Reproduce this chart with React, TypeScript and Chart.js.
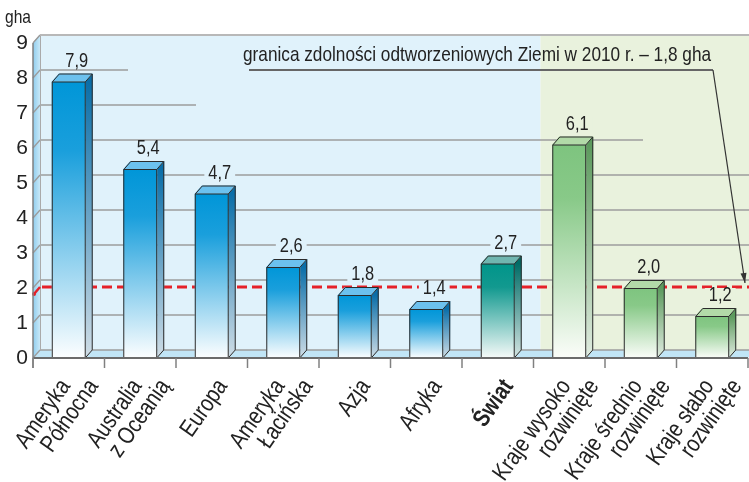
import React, { useEffect, useRef } from "react";
import { Chart, registerables } from "chart.js";

Chart.register(...registerables);

// ---------- data ----------
const categories: string[][] = [
  ["Ameryka", "Północna"],
  ["Australia", "z Oceanią"],
  ["Europa"],
  ["Ameryka", "Łacińska"],
  ["Azja"],
  ["Afryka"],
  ["Świat"],
  ["Kraje wysoko", "rozwinięte"],
  ["Kraje średnio", "rozwinięte"],
  ["Kraje słabo", "rozwinięte"],
];
const values: number[] = [7.9, 5.4, 4.7, 2.6, 1.8, 1.4, 2.7, 6.1, 2.0, 1.2];
const groups: string[] = ["region", "region", "region", "region", "region", "region", "world", "dev", "dev", "dev"];
const yTicks: number[] = [0, 1, 2, 3, 4, 5, 6, 7, 8, 9];
const limitValue = 1.8;
const limitText = "granica zdolności odtworzeniowych Ziemi w 2010 r. – 1,8 gha";
const unitText = "gha";

// ---------- style ----------
const FONT = "'Liberation Sans', Arial, sans-serif";
const NARROW = 0.82; // horizontal condensing to mimic a condensed typeface
const W = 749;
const H = 482;
const DX = 7;
const DY = 8;
const BG_BLUE = "#e0f2fb";
const BG_GREEN = "#e9f2dd";
const FLOOR = "#c1e5f6";
const GRID = "#9c9c9c";
const TEXT = "#222";

const palettes: Record<string, { front: string[]; side: string[]; top: string }> = {
  region: { front: ["#0096d8", "#1a9fdc", "#fcfeff"], side: ["#0a6ea8", "#cfdde6"], top: "#6cc1ee" },
  world: { front: ["#00958a", "#12998f", "#f6faf9"], side: ["#006c66", "#d5e5e3"], top: "#70b6b0" },
  dev: { front: ["#7ec47f", "#88c988", "#fbfdf9"], side: ["#5c9a5d", "#e0ece0"], top: "#b2daa8" },
};

// grid lines that stop early (right end as fraction of canvas width)
const gridStops: Record<number, number> = { 8: 128 / W, 7: 196 / W, 6: 643 / W };

const fmt = (v: number) => v.toFixed(1).replace(".", ",");

function narrowText(
  ctx: CanvasRenderingContext2D,
  text: string,
  x: number,
  y: number,
  size: number,
  align: CanvasTextAlign,
  opts: { bold?: boolean; angle?: number } = {}
) {
  ctx.save();
  ctx.translate(x, y);
  if (opts.angle) ctx.rotate(opts.angle);
  ctx.scale(NARROW, 1);
  ctx.font = `${opts.bold ? "bold " : ""}${size}px ${FONT}`;
  ctx.textAlign = align;
  ctx.textBaseline = "alphabetic";
  ctx.fillStyle = TEXT;
  ctx.fillText(text, 0, 0);
  ctx.restore();
}

function narrowWidth(ctx: CanvasRenderingContext2D, text: string, size: number) {
  ctx.save();
  ctx.font = `${size}px ${FONT}`;
  const w = ctx.measureText(text).width * NARROW;
  ctx.restore();
  return w;
}

const frontGradient = (c: any) => {
  const chart = c.chart;
  const i = c.dataIndex;
  const pal = palettes[groups[i] ?? "region"];
  const area = chart.chartArea;
  if (!area || i === undefined) return pal.front[0];
  const yS = chart.scales.y;
  const t = yS.getPixelForValue(c.raw);
  const b = yS.getPixelForValue(0);
  const g = chart.ctx.createLinearGradient(0, t, 0, b);
  g.addColorStop(0, pal.front[0]);
  g.addColorStop(0.25, pal.front[1]);
  g.addColorStop(1, pal.front[2]);
  return g;
};

const threeD = {
  id: "threeD",
  beforeDatasetsDraw(chart: any) {
    const { ctx, chartArea, scales } = chart;
    const { left, right, top, bottom } = chartArea;
    const x = scales.x;
    const y = scales.y;
    const catW = x.getPixelForValue(1) - x.getPixelForValue(0);
    const boundary = x.getPixelForValue(6) + catW / 2 + DX;
    const byTop = top - DY;
    const byBottom = bottom - DY;
    ctx.save();
    // backgrounds
    ctx.fillStyle = BG_BLUE;
    ctx.fillRect(left + DX, byTop, boundary - (left + DX), byBottom - byTop);
    ctx.fillStyle = BG_GREEN;
    ctx.fillRect(boundary, byTop, W - boundary, byBottom - byTop);
    // floor
    ctx.fillStyle = FLOOR;
    ctx.beginPath();
    ctx.moveTo(left, bottom);
    ctx.lineTo(right, bottom);
    ctx.lineTo(right + DX, byBottom);
    ctx.lineTo(left + DX, byBottom);
    ctx.closePath();
    ctx.fill();
    // left wall
    const wg = ctx.createLinearGradient(left, 0, left + DX, 0);
    wg.addColorStop(0, "#8fcdee");
    wg.addColorStop(1, "#c8e8f7");
    ctx.fillStyle = wg;
    ctx.beginPath();
    ctx.moveTo(left, top);
    ctx.lineTo(left + DX, byTop);
    ctx.lineTo(left + DX, byBottom);
    ctx.lineTo(left, bottom);
    ctx.closePath();
    ctx.fill();
    // grid lines on back wall + wall ticks
    ctx.strokeStyle = GRID;
    ctx.lineWidth = 1.3;
    for (const v of yTicks) {
      const fy = y.getPixelForValue(v);
      const by = fy - DY;
      if (v < 9) {
        const stop = gridStops[v] !== undefined ? gridStops[v] * W : W;
        ctx.beginPath();
        ctx.moveTo(left + DX, by);
        ctx.lineTo(stop, by);
        ctx.stroke();
      }
      ctx.beginPath();
      ctx.moveTo(left, fy);
      ctx.lineTo(left + DX, by);
      ctx.stroke();
    }
    // back-left vertical edge
    ctx.strokeStyle = "#aaa";
    ctx.lineWidth = 1;
    ctx.beginPath();
    ctx.moveTo(left + DX + 0.5, byTop);
    ctx.lineTo(left + DX + 0.5, byBottom);
    ctx.stroke();
    // red dashed limit line
    const lf = y.getPixelForValue(limitValue);
    const lb = lf - DY;
    ctx.strokeStyle = "#e52129";
    ctx.lineWidth = 3;
    ctx.setLineDash([10, 5]);
    ctx.beginPath();
    ctx.moveTo(left + DX + 2, lb);
    ctx.lineTo(W, lb);
    ctx.stroke();
    ctx.setLineDash([]);
    ctx.lineWidth = 2.5;
    ctx.beginPath();
    ctx.moveTo(left + 1, lf - 1);
    ctx.lineTo(left + DX, lb);
    ctx.stroke();
    ctx.fillStyle = "#e52129";
    ctx.beginPath();
    ctx.arc(left + 1, lf - 1, 2, 0, Math.PI * 2);
    ctx.fill();
    // value label backgrounds (gaps in lines)
    values.forEach((v, i) => {
      const cx = x.getPixelForValue(i) + 8;
      const base = y.getPixelForValue(v) - 15;
      const tw = narrowWidth(ctx, fmt(v), 20);
      ctx.fillStyle = i < 7 ? BG_BLUE : BG_GREEN;
      ctx.fillRect(cx - tw / 2 - 4, base - 13, tw + 8, 15);
    });
    // top border
    ctx.strokeStyle = "#b8b8b8";
    ctx.lineWidth = 2;
    ctx.beginPath();
    ctx.moveTo(left + DX, byTop);
    ctx.lineTo(W, byTop);
    ctx.stroke();
    ctx.strokeStyle = "#999";
    ctx.lineWidth = 1;
    ctx.beginPath();
    ctx.moveTo(left, top);
    ctx.lineTo(left + DX, byTop);
    ctx.stroke();
    ctx.restore();
  },
  afterDatasetsDraw(chart: any) {
    const { ctx, chartArea, scales } = chart;
    const { left, right, top, bottom } = chartArea;
    const x = scales.x;
    const y = scales.y;
    const meta = chart.getDatasetMeta(0);
    ctx.save();
    meta.data.forEach((el: any, i: number) => {
      const p = el.getProps(["x", "y", "base", "width"], true);
      const pal = palettes[groups[i]];
      const l = p.x - p.width / 2;
      const r = p.x + p.width / 2;
      const t = p.y;
      const b = p.base;
      // side face
      const sg = ctx.createLinearGradient(0, t, 0, b);
      sg.addColorStop(0, pal.side[0]);
      sg.addColorStop(1, pal.side[1]);
      ctx.fillStyle = sg;
      ctx.beginPath();
      ctx.moveTo(r, t);
      ctx.lineTo(r + DX, t - DY);
      ctx.lineTo(r + DX, b - DY);
      ctx.lineTo(r, b);
      ctx.closePath();
      ctx.fill();
      // top face
      ctx.fillStyle = pal.top;
      ctx.beginPath();
      ctx.moveTo(l, t);
      ctx.lineTo(r, t);
      ctx.lineTo(r + DX, t - DY);
      ctx.lineTo(l + DX, t - DY);
      ctx.closePath();
      ctx.fill();
      // outlines
      ctx.strokeStyle = "#2b2b2b";
      ctx.lineWidth = 1;
      ctx.lineJoin = "round";
      ctx.beginPath();
      ctx.rect(l + 0.5, t + 0.5, p.width - 1, b - t - 0.5);
      ctx.moveTo(l + 0.5, t + 0.5);
      ctx.lineTo(l + DX + 0.5, t - DY + 0.5);
      ctx.lineTo(r + DX - 0.5, t - DY + 0.5);
      ctx.lineTo(r - 0.5, t + 0.5);
      ctx.moveTo(r + DX - 0.5, t - DY + 0.5);
      ctx.lineTo(r + DX - 0.5, b - DY);
      ctx.lineTo(r - 0.5, b);
      ctx.stroke();
      // value label
      narrowText(ctx, fmt(values[i]), p.x + 8, y.getPixelForValue(values[i]) - 15, 20, "center");
    });

    // front axes
    ctx.strokeStyle = "#6b6b6b";
    ctx.lineWidth = 2;
    ctx.beginPath();
    ctx.moveTo(left, bottom);
    ctx.lineTo(right, bottom);
    ctx.stroke();
    ctx.strokeStyle = "#808080";
    ctx.lineWidth = 1.5;
    ctx.beginPath();
    ctx.moveTo(left, top);
    ctx.lineTo(left, bottom + 10);
    ctx.stroke();
    const catW = x.getPixelForValue(1) - x.getPixelForValue(0);
    for (let k = 0; k <= categories.length; k++) {
      const tx = x.getPixelForValue(0) - catW / 2 + k * catW;
      ctx.beginPath();
      ctx.moveTo(tx, bottom);
      ctx.lineTo(tx, bottom + 10);
      ctx.stroke();
    }

    // category labels
    const ang = (55 * Math.PI) / 180;
    const fs = 24;
    const xh = fs * 0.52;
    categories.forEach((lines, i) => {
      const cx = x.getPixelForValue(i);
      const n = lines.length;
      lines.forEach((line, j) => {
        const ax = cx + 6 + (j - (n - 1) / 2) * 28;
        const ay = bottom + 21;
        const bx = ax + Math.sin(ang) * xh;
        const by = ay + Math.cos(ang) * xh;
        narrowText(ctx, line, bx, by, fs, "right", { bold: i === 6, angle: -ang });
      });
    });

    // unit
    narrowText(ctx, unitText, 5, 23, 19, "left");

    // annotation
    const uy = y.getPixelForValue(8) - DY;
    const ux0 = 249;
    const ux1 = right - 35;
    ctx.strokeStyle = "#666";
    ctx.lineWidth = 2;
    ctx.beginPath();
    ctx.moveTo(ux0, uy);
    ctx.lineTo(ux1, uy);
    ctx.stroke();
    narrowText(ctx, limitText, 243, uy - 9, 21, "left");
    const tipX = right - 3;
    const tipY = y.getPixelForValue(limitValue) - DY - 4;
    ctx.strokeStyle = "#333";
    ctx.lineWidth = 1.2;
    ctx.beginPath();
    ctx.moveTo(ux1, uy);
    ctx.lineTo(tipX, tipY);
    ctx.stroke();
    const a = Math.atan2(tipY - uy, tipX - ux1);
    ctx.fillStyle = "#333";
    ctx.beginPath();
    ctx.moveTo(tipX, tipY);
    ctx.lineTo(tipX - 10 * Math.cos(a) + 3 * Math.sin(a), tipY - 10 * Math.sin(a) - 3 * Math.cos(a));
    ctx.lineTo(tipX - 10 * Math.cos(a) - 3 * Math.sin(a), tipY - 10 * Math.sin(a) + 3 * Math.cos(a));
    ctx.closePath();
    ctx.fill();
    ctx.restore();
  },
};

export default function App() {
  const ref = useRef<HTMLCanvasElement>(null);
  useEffect(() => {
    if (!ref.current) return;
    const chart = new Chart(ref.current, {
      type: "bar",
      data: {
        labels: categories.map((c) => c.join(" ")),
        datasets: [
          {
            data: values,
            backgroundColor: frontGradient as any,
            borderWidth: 0,
            barPercentage: 0.475,
            categoryPercentage: 1,
          },
        ],
      },
      options: {
        responsive: false,
        animation: false,
        devicePixelRatio: 1,
        layout: { padding: { left: 0, right: 1, top: 43, bottom: 0 } },
        plugins: { legend: { display: false }, tooltip: { enabled: false } },
        scales: {
          x: {
            grid: { display: false, drawTicks: false },
            border: { display: false },
            ticks: { display: false },
            afterFit: (s: any) => {
              s.height = 124;
            },
          },
          y: {
            min: 0,
            max: 9,
            ticks: { stepSize: 1, font: { family: FONT, size: 21 }, color: TEXT, padding: 5 },
            grid: { display: false, drawTicks: false },
            border: { display: false },
            afterFit: (s: any) => {
              s.width = 33;
            },
          },
        },
      },
      plugins: [threeD],
    });
    return () => chart.destroy();
  }, []);
  return (
    <div style={{ position: "absolute", left: 0, top: 0, width: W, height: H, background: "#fff" }}>
      <canvas ref={ref} width={W} height={H} style={{ width: W, height: H, display: "block" }} />
    </div>
  );
}
